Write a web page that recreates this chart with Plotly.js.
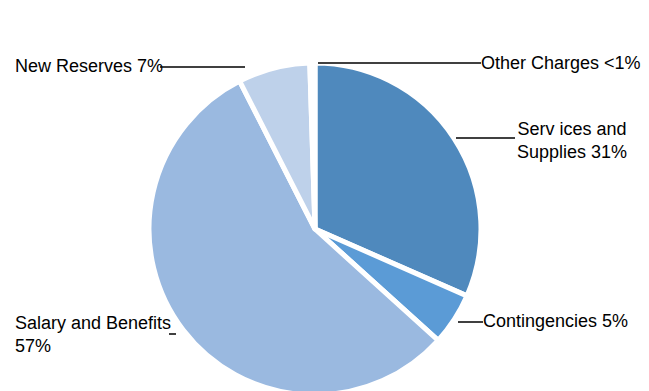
<!DOCTYPE html>
<html>
<head>
<meta charset="utf-8">
<script src="https://cdn.plot.ly/plotly-3.0.1.min.js"></script>
<style>html,body{margin:0;padding:0;overflow:hidden;background:#fff;}</style>
</head>
<body>
<div id="chart" style="width:649px;height:395px;"></div>
<script>
// Data
const categories = ["Services and Supplies", "Contingencies", "Salary and Benefits", "New Reserves", "Other Charges"];
const values = [31.6, 5.1, 55.8, 7.0, 0.5];
const labelTexts = ["Serv ices and<br>Supplies 31%", "Contingencies 5%", "Salary and Benefits<br>57%", "New Reserves 7%", "Other Charges <1%"];
const colors = ["#4f89bd", "#5b9bd6", "#9ab9e0", "#bed1ea", "#f4f7fb"];

const W = 649, H = 395;
const px = x => x / W;
const py = y => 1 - y / H;

// label placement (pixels)
const labelPos = [
  {x: 572, y: 140, xanchor: "center", align: "center"},
  {x: 481, y: 321, xanchor: "left", align: "left"},
  {x: 13, y: 334, xanchor: "left", align: "left"},
  {x: 13, y: 66, xanchor: "left", align: "left"},
  {x: 479, y: 63, xanchor: "left", align: "left"}
];
// leader lines (pixels)
const leaders = [
  [456, 138, 515, 138],
  [458, 322, 483, 322],
  [169, 334, 176, 334],
  [160, 67, 245, 67],
  [318, 63, 481, 63]
];

const annotations = labelTexts.map((t, i) => ({
  text: t, xref: "paper", yref: "paper",
  x: px(labelPos[i].x), y: py(labelPos[i].y),
  xanchor: labelPos[i].xanchor, yanchor: "middle", align: labelPos[i].align,
  showarrow: false,
  font: {family: "Liberation Sans, Arial, sans-serif", size: 18, color: "#000"}
}));

const shapes = leaders.map(l => ({
  type: "line", xref: "paper", yref: "paper",
  x0: px(l[0]), y0: py(l[1]), x1: px(l[2]), y1: py(l[3]),
  line: {color: "#000", width: 1.5}
}));

const cx = 315, cy = 229, r = 166;

Plotly.newPlot("chart", [{
  type: "pie",
  labels: categories,
  values: values,
  sort: false,
  direction: "clockwise",
  rotation: 0,
  textinfo: "none",
  hoverinfo: "label+percent",
  marker: {colors: colors, line: {color: "#ffffff", width: 5}},
  domain: {x: [px(cx - r), px(cx + r)], y: [Math.max(0, py(cy + r)), py(cy - r)]}
}], {
  width: W, height: H,
  margin: {l: 0, r: 0, t: 0, b: 0},
  showlegend: false,
  paper_bgcolor: "#ffffff",
  annotations: annotations,
  shapes: shapes
}, {displayModeBar: false, staticPlot: true});
</script>
</body>
</html>
